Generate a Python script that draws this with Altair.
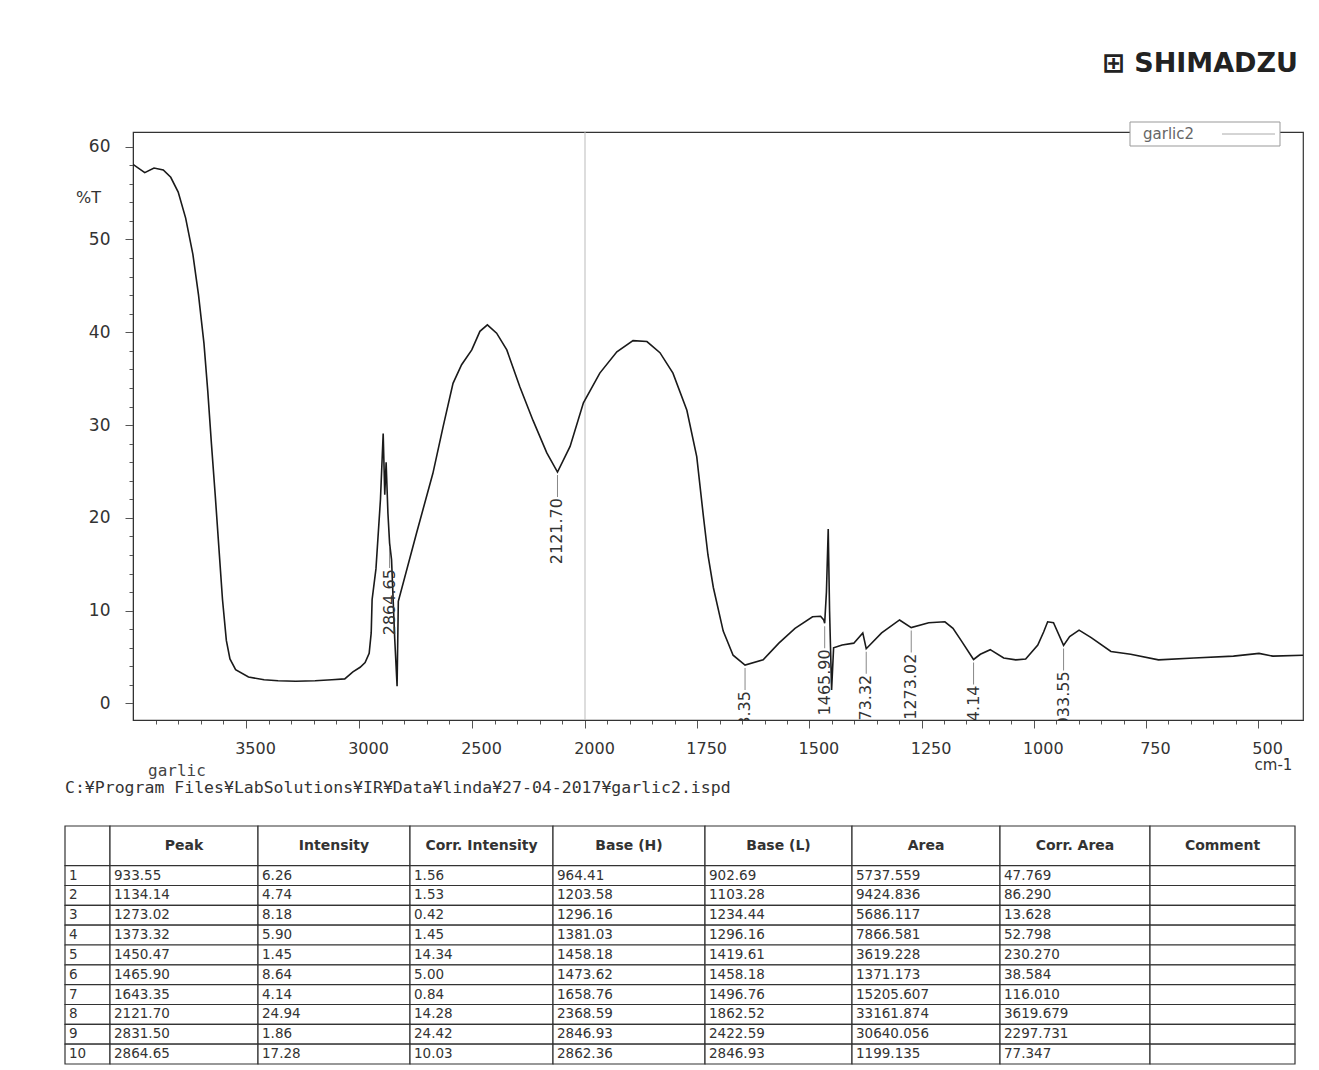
import altair as alt
import pandas as pd

# ---------------- spectrum trace (wavenumber cm-1, %T) ----------------
wavenumber = [
    4000, 3948, 3907, 3866, 3833, 3800, 3767, 3735, 3710, 3686, 3669, 3653, 3636, 3620,
    3604, 3587, 3571, 3546, 3489, 3420, 3358, 3280, 3194, 3120, 3063, 3027, 2995, 2973,
    2955, 2946, 2942, 2925, 2905, 2893, 2886, 2880, 2872, 2864.65, 2856, 2842, 2831.5,
    2826, 2745, 2673, 2628, 2584, 2546, 2501, 2465, 2432, 2391, 2346, 2288, 2230, 2169,
    2121.7, 2066, 2007, 1967, 1929, 1893, 1862, 1833, 1804, 1773, 1751, 1736, 1726, 1714,
    1692, 1670, 1643.35, 1603, 1568, 1532, 1493, 1475, 1468, 1465.9, 1462, 1458, 1455,
    1450.47, 1446, 1427, 1401, 1381, 1373.32, 1339, 1299, 1273.02, 1234, 1198, 1180, 1162,
    1134.14, 1119, 1097, 1067, 1040, 1018, 991, 978, 969, 956, 933.55, 920, 899, 872, 828,
    784, 722, 643, 555, 498, 467, 400,
]
transmittance = [
    58.1, 57.2, 57.7, 57.5, 56.7, 55.1, 52.3, 48.4, 44.0, 38.8, 33.6, 28.0, 22.4, 16.8,
    11.2, 6.8, 4.8, 3.65, 2.85, 2.55, 2.45, 2.4, 2.45, 2.55, 2.65, 3.4, 3.9, 4.4,
    5.4, 7.6, 11.2, 14.5, 22.0, 29.1, 22.5, 26.0, 20.5, 17.28, 15.5, 7.0, 1.86,
    11.0, 18.4, 24.8, 29.8, 34.5, 36.5, 38.1, 40.1, 40.8, 39.9, 38.1, 34.1, 30.5, 27.0,
    24.94, 27.7, 32.4, 35.6, 37.9, 39.1, 39.0, 37.8, 35.6, 31.6, 26.6, 20.1, 16.0, 12.5,
    7.8, 5.2, 4.14, 4.7, 6.5, 8.1, 9.35, 9.4, 9.0, 8.64, 12.0, 18.8, 10.0,
    1.45, 6.0, 6.3, 6.5, 7.6, 5.9, 7.6, 9.0, 8.18, 8.7, 8.8, 8.1, 6.8,
    4.74, 5.3, 5.8, 4.9, 4.7, 4.8, 6.3, 7.7, 8.8, 8.7, 6.26, 7.2, 7.9, 7.1, 5.6,
    5.3, 4.7, 4.9, 5.1, 5.4, 5.1, 5.2,
]

series_name = "garlic2"
sample_name = "garlic"
file_path = "C:¥Program Files¥LabSolutions¥IR¥Data¥linda¥27-04-2017¥garlic2.ispd"
brand = "⊞ SHIMADZU"

# ---------------- peak table ----------------
peak_no = [1, 2, 3, 4, 5, 6, 7, 8, 9, 10]
peak_pos = [933.55, 1134.14, 1273.02, 1373.32, 1450.47, 1465.90, 1643.35, 2121.70, 2831.50, 2864.65]
intensity = [6.26, 4.74, 8.18, 5.90, 1.45, 8.64, 4.14, 24.94, 1.86, 17.28]
corr_intensity = [1.56, 1.53, 0.42, 1.45, 14.34, 5.00, 0.84, 14.28, 24.42, 10.03]
base_h = [964.41, 1203.58, 1296.16, 1381.03, 1458.18, 1473.62, 1658.76, 2368.59, 2846.93, 2862.36]
base_l = [902.69, 1103.28, 1234.44, 1296.16, 1419.61, 1458.18, 1496.76, 1862.52, 2422.59, 2846.93]
area = [5737.559, 9424.836, 5686.117, 7866.581, 3619.228, 1371.173, 15205.607, 33161.874, 30640.056, 1199.135]
corr_area = [47.769, 86.290, 13.628, 52.798, 230.270, 38.584, 116.010, 3619.679, 2297.731, 77.347]
labelled = [True, True, True, True, False, True, True, True, False, True]
table_headers = ["", "Peak", "Intensity", "Corr. Intensity", "Base (H)", "Base (L)",
                 "Area", "Corr. Area", "Comment"]

x_major = [3500, 3000, 2500, 2000, 1750, 1500, 1250, 1000, 750, 500]
x_minor = list(range(3900, 2000, -100)) + list(range(1950, 400, -50))
y_ticks = list(range(0, 61, 2))

# ---------------- layout constants ----------------
PLOT_W, PLOT_H = 1170, 588
X_DOMAIN = [4000, 2000, 400]
X_RANGE = [0, 452, PLOT_W]
Y_DOMAIN = [-1.78, 61.58]
COL_W = [45, 148, 152, 143, 152, 147, 148, 150, 145]
TABLE_LEFT = -68
TABLE_H = 238
FONT = "DejaVu Sans"
PRINT_FONT = "DejaVu Sans Mono"

x_ticks = sorted(set(x_major + x_minor), reverse=True)
x_test = "indexof([%s], datum.value) >= 0" % ",".join(str(v) for v in x_major)
y_test = "datum.value % 10 === 0"

xs = alt.Scale(domain=X_DOMAIN, range=X_RANGE, zero=False, nice=False)
ys = alt.Scale(domain=Y_DOMAIN, zero=False, nice=False)

x_axis = alt.Axis(
    values=x_ticks, format="d", labelExpr=f"({x_test}) ? datum.label : ''",
    tickSize={"condition": {"test": x_test, "value": 8}, "value": 4},
    labelFontSize=16, labelColor="#333", labelPadding=12, labelOffset=9,
    labelOverlap=False, labelFlush=False, domainColor="#333", tickColor="#555",
    grid=False, title="cm-1", titleX=1140, titleY=44, titleAlign="center",
    titleBaseline="middle", titleFontSize=15, titleFontWeight="normal", titleColor="#333",
)
y_axis = alt.Axis(
    values=y_ticks, labelExpr=f"({y_test}) ? datum.label : ''",
    tickSize={"condition": {"test": y_test, "value": 8}, "value": 4},
    labelFontSize=17, labelColor="#333", labelPadding=15, labelOverlap=False,
    labelFlush=False, domainColor="#333", tickColor="#555", grid=False,
    title="%T", titleAngle=0, titleX=-45, titleY=65, titleAlign="center",
    titleBaseline="middle", titleFontSize=16, titleFontWeight="normal", titleColor="#333",
)

X = alt.X("wn:Q", scale=xs, axis=x_axis)
Y = alt.Y("T:Q", scale=ys, axis=y_axis)

spec_df = pd.DataFrame({"wn": wavenumber, "T": transmittance})
pk_df = pd.DataFrame({
    "wn": peak_pos, "T": intensity,
    "label": [f"{p:.2f}" for p in peak_pos], "show": labelled,
})
pk_df = pk_df[pk_df["show"]]

split = alt.Chart(pd.DataFrame({"wn": [2000]})).mark_rule(
    color="#bbbbbb", strokeWidth=1
).encode(x=X)

curve = alt.Chart(spec_df).mark_line(
    strokeWidth=1.6, clip=True, color="#1a1a1a"
).encode(x=X, y=Y)

pk_ticks = alt.Chart(pk_df).mark_tick(
    orient="vertical", size=22, thickness=1, color="#555", yOffset=14
).encode(x=X, y=Y)

pk_labels = alt.Chart(pk_df).mark_text(
    angle=270, align="right", baseline="middle", dx=-26, fontSize=16,
    color="#333", clip=True
).encode(x=X, y=Y, text="label:N")

# legend box (series name then line sample, as on the instrument print-out)
legend_df = pd.DataFrame({"t": [series_name]})
leg_box = alt.Chart(legend_df).mark_rect(fill="white", stroke="#999", strokeWidth=1).encode(
    x=alt.value(997), x2=alt.value(1147), y=alt.value(-10), y2=alt.value(14)
)
leg_text = alt.Chart(legend_df).mark_text(
    align="left", baseline="middle", fontSize=15, color="#666"
).encode(text="t:N", x=alt.value(1010), y=alt.value(2))
leg_line = alt.Chart(legend_df).mark_rule(color="#aaa", strokeWidth=1).encode(
    x=alt.value(1089), x2=alt.value(1142), y=alt.value(2)
)

note1 = alt.Chart(pd.DataFrame({"t": [sample_name]})).mark_text(
    align="left", baseline="alphabetic", fontSize=16, color="#444", font=PRINT_FONT
).encode(text="t:N", x=alt.value(15), y=alt.value(644))

note2 = alt.Chart(pd.DataFrame({"t": [file_path]})).mark_text(
    align="left", baseline="alphabetic", fontSize=16.5, color="#333", font=PRINT_FONT
).encode(text="t:N", x=alt.value(TABLE_LEFT), y=alt.value(661))

spectrum = alt.layer(
    split, curve, pk_ticks, pk_labels, leg_box, leg_text, leg_line, note1, note2
).properties(
    width=PLOT_W, height=PLOT_H,
    title=alt.TitleParams(
        brand, anchor="end", fontSize=27, font=FONT, fontWeight="bold",
        color="#222", offset=44, dx=-5,
    ),
)

# ---------------- peak table ----------------
edges = [0]
for w in COL_W:
    edges.append(edges[-1] + w)

cells = []
for c, h in enumerate(table_headers):
    cells.append(dict(x0=edges[c], x1=edges[c + 1], y0=0, y1=2,
                      tx=(edges[c] + edges[c + 1]) / 2, ty=1, text=h, header=True))
for r in range(len(peak_no)):
    vals = [str(peak_no[r]), f"{peak_pos[r]:.2f}", f"{intensity[r]:.2f}",
            f"{corr_intensity[r]:.2f}", f"{base_h[r]:.2f}", f"{base_l[r]:.2f}",
            f"{area[r]:.3f}", f"{corr_area[r]:.3f}", ""]
    for c, v in enumerate(vals):
        cells.append(dict(x0=edges[c], x1=edges[c + 1], y0=r + 2, y1=r + 3,
                          tx=edges[c], ty=r + 2.5, text=v, header=False))
cells_df = pd.DataFrame(cells)

tx_scale = alt.Scale(domain=[0, edges[-1]], range=[TABLE_LEFT, TABLE_LEFT + edges[-1]],
                     zero=False, nice=False)
ty_scale = alt.Scale(domain=[0, 12], range=[0, TABLE_H], zero=False, nice=False)

grid = alt.Chart(cells_df).mark_rect(fill="white", stroke="#333", strokeWidth=1.2).encode(
    x=alt.X("x0:Q", scale=tx_scale, axis=None), x2="x1:Q",
    y=alt.Y("y0:Q", scale=ty_scale, axis=None), y2="y1:Q",
)
head_text = alt.Chart(cells_df[cells_df["header"]]).mark_text(
    align="center", baseline="middle", fontSize=14, fontWeight="bold", color="#333"
).encode(
    x=alt.X("tx:Q", scale=tx_scale, axis=None),
    y=alt.Y("ty:Q", scale=ty_scale, axis=None), text="text:N",
)
body_text = alt.Chart(cells_df[~cells_df["header"]]).mark_text(
    align="left", baseline="middle", fontSize=13.5, color="#333", dx=4
).encode(
    x=alt.X("tx:Q", scale=tx_scale, axis=None),
    y=alt.Y("ty:Q", scale=ty_scale, axis=None), text="text:N",
)

table = alt.layer(grid, head_text, body_text).properties(
    width=PLOT_W - 8, height=TABLE_H,
    view=alt.ViewBackground(stroke="transparent"),
)

chart = alt.vconcat(spectrum, table, spacing=26).configure(
    font=FONT, padding={"left": 55, "top": 40, "right": 5, "bottom": 5},
).configure_view(stroke="#333", strokeWidth=1.2)

chart.save("out.html", embed_options={"renderer": "svg", "actions": False})
